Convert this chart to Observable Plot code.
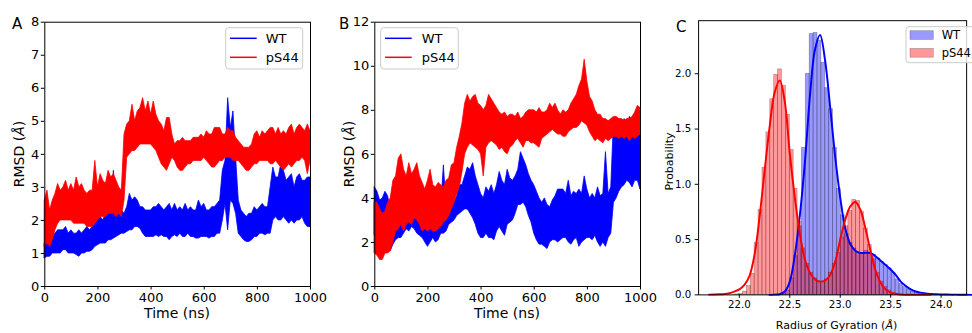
<!DOCTYPE html>
<html>
<head>
<meta charset="utf-8">
<script src="https://cdn.jsdelivr.net/npm/d3@7"></script>
<script src="https://cdn.jsdelivr.net/npm/@observablehq/plot@0.6"></script>
<style>
  html, body { margin: 0; padding: 0; background: #fff; }
  #root { position: relative; width: 972px; height: 333px; overflow: hidden; background: #fff; font-family: "DejaVu Sans", sans-serif; }
  .panel { position: absolute; top: 0; }
  .panel svg { display: block; overflow: visible; }
  #overlay { position: absolute; left: 0; top: 0; pointer-events: none; }
</style>
</head>
<body>
<div id="root">
  <div class="panel" id="pa" style="left:0px"></div>
  <div class="panel" id="pb" style="left:330px"></div>
  <div class="panel" id="pc" style="left:650px"></div>
</div>
<script>
// ---------------- Data ----------------
// time grid (ns), one envelope sample every 10 ns
const timeNs = d3.range(0, 1001, 10);

// Panel A: RMSD envelopes (low / high of the noisy trace), Å
const aWtLo = [0.85,0.9,0.9,1.0,1.0,1.0,1.0,1.1,1.1,1.0, 1.0,1.0,0.95,0.9,1.0,1.0,1.05,1.05,1.1,1.2, 1.25,1.3,1.3,1.3,1.4,1.4,1.45,1.5,1.55,1.6, 1.6,1.65,1.7,1.7,1.8,1.8,1.75,1.6,1.5,1.5, 1.5,1.5,1.55,1.5,1.55,1.5,1.5,1.4,1.5,1.55, 1.5,1.6,1.5,1.5,1.6,1.5,1.5,1.45,1.45,1.5, 1.5,1.5,1.45,1.5,1.5,1.6,1.6,2.0,2.5,1.7, 2.6,2.5,2.2,1.6,1.5,1.4,1.35,1.35,1.4,1.5, 1.5,1.6,1.6,1.55,1.6,1.6,2.0,2.1,2.0,2.0, 2.1,2.0,1.9,2.0,1.9,2.0,2.0,2.1,1.9,1.8, 1.8];
const aWtHi = [1.3,1.4,1.3,1.5,1.6,1.7,1.7,1.7,1.8,1.6, 1.7,1.6,1.6,1.7,1.6,1.7,1.8,1.7,1.8,1.9, 2.1,2.1,2.0,2.2,2.2,2.3,3.5,2.2,2.3,2.3, 2.2,2.4,2.8,2.6,2.7,2.6,2.4,2.4,2.3,2.3, 2.3,2.4,2.4,2.5,2.4,2.3,2.4,2.5,2.3,2.5, 2.3,2.4,2.3,2.5,2.3,2.4,2.3,2.3,2.6,2.4, 2.5,2.3,2.3,2.4,2.4,2.5,2.6,3.5,3.8,5.7, 4.8,5.3,3.9,2.6,2.3,2.2,2.1,2.2,2.2,2.4, 2.3,2.4,2.5,2.4,2.4,3.0,3.6,3.3,3.3,3.7, 3.5,3.2,3.3,3.4,3.0,3.3,3.4,3.2,3.2,3.3, 3.3];
const aPsLo = [1.2,1.3,1.2,1.4,1.7,1.9,2.0,2.0,2.0,2.0, 2.0,1.9,1.9,1.9,1.9,1.9,1.8,1.8,1.8,1.9, 2.0,2.1,2.1,2.1,2.2,2.2,2.2,2.1,2.2,2.1, 2.6,3.9,4.0,4.1,4.1,4.2,4.3,4.3,4.3,4.3, 4.3,4.2,4.1,3.9,3.7,3.6,3.5,3.7,3.9,3.8, 3.6,3.5,3.5,3.6,3.7,3.7,3.8,3.8,3.8,3.8, 3.9,3.8,3.7,3.6,3.6,3.7,3.8,3.8,3.9,3.9, 3.9,3.8,3.8,3.8,3.7,3.6,3.5,3.5,3.6,3.7, 3.7,3.8,3.8,3.8,3.8,3.7,3.7,3.8,3.7,3.6, 3.5,3.6,3.7,3.6,3.7,3.8,3.8,3.9,3.8,3.4, 3.8];
const aPsHi = [2.6,2.9,2.3,2.6,2.8,3.1,2.9,3.0,3.2,2.9, 3.1,2.9,3.3,3.0,3.1,2.9,2.8,2.9,2.9,3.8, 3.0,3.4,3.2,3.1,3.5,3.3,3.4,3.2,3.0,2.9, 4.6,4.9,5.0,5.5,5.0,5.3,5.4,5.7,5.3,5.6, 5.2,5.6,5.2,5.0,4.9,4.7,5.1,5.1,4.6,4.3, 4.4,4.4,4.5,4.4,4.4,4.4,4.5,4.5,4.5,4.6, 4.5,4.7,4.6,4.6,4.8,4.8,4.8,4.6,4.6,4.8, 4.7,4.7,4.5,4.4,4.3,4.2,4.2,4.2,4.3,4.6, 4.7,4.5,4.7,4.6,4.7,4.8,4.8,4.6,4.8,4.6, 4.7,4.6,4.8,4.9,4.6,4.8,4.9,4.8,4.7,4.9, 4.7];

// Panel B
const bWtLo = [2.3,2.2,2.0,2.3,2.5,1.7,1.6,1.9,2.1,2.2, 2.2,2.4,2.6,2.5,2.7,2.6,2.4,2.3,2.2,2.0, 1.8,2.0,2.2,2.0,2.1,2.4,2.4,2.5,2.8,2.9, 3.0,3.2,3.3,3.4,3.5,3.5,3.3,3.1,2.8,2.4, 2.2,2.2,2.4,2.2,2.2,2.1,2.5,2.7,2.5,2.3, 2.8,2.9,3.0,3.3,3.7,3.7,3.8,3.6,3.2,2.9, 2.4,2.1,1.9,1.9,1.8,1.7,2.0,2.1,2.1,2.0, 2.1,2.2,2.2,2.0,1.9,2.1,2.2,1.8,2.0,2.1, 2.2,2.2,2.1,2.3,2.0,1.8,2.0,1.8,2.2,2.4, 3.8,4.0,4.3,4.5,4.6,4.8,4.7,4.5,4.8,4.8, 4.4];
const bWtHi = [4.5,4.3,3.9,4.0,4.3,4.1,3.5,3.4,3.6,3.9, 3.6,3.5,3.6,3.3,3.6,3.8,3.6,3.5,3.4,3.2, 3.0,3.2,3.4,3.0,3.1,3.6,5.5,3.6,3.6,3.8, 3.8,4.1,4.6,4.6,5.0,5.4,5.3,5.6,5.0,4.6, 4.2,4.0,4.5,4.3,4.6,4.2,4.6,5.2,4.8,4.6, 5.3,4.9,4.8,5.0,5.3,6.1,5.8,5.5,5.1,4.8, 4.6,4.3,4.0,3.8,4.0,3.7,3.6,3.9,4.1,4.4, 4.4,4.4,4.2,4.8,4.1,4.3,4.2,4.4,4.2,5.0, 4.4,4.0,4.2,4.0,4.5,4.1,4.2,6.1,4.2,4.5, 7.5,7.6,7.5,7.2,7.6,7.3,7.7,7.4,7.3,7.0, 7.0];
const bPsLo = [1.5,1.4,1.2,1.2,1.5,1.5,1.6,2.0,2.5,2.6, 2.8,2.5,2.8,2.9,2.8,3.1,3.0,2.8,2.5,2.6, 2.5,2.6,2.5,2.5,2.6,2.7,2.9,3.0,3.2,3.5, 3.8,4.2,4.5,5.2,6.0,6.3,6.5,6.4,6.3,6.2, 6.0,5.0,6.3,6.5,6.6,6.5,6.4,6.2,6.3,6.1, 6.0,6.3,6.4,6.6,6.7,6.5,6.3,6.6,6.6,6.5, 6.5,6.4,6.3,6.7,6.8,6.9,7.0,7.1,7.0,6.9, 6.9,6.8,6.8,7.0,7.1,7.2,7.2,7.3,7.5,7.4, 7.3,7.0,6.8,6.6,6.7,6.6,6.5,6.7,6.6,6.7, 6.8,6.8,6.7,6.8,6.7,6.8,6.6,6.8,6.7,6.8, 6.9];
const bPsHi = [3.8,3.8,3.5,3.3,3.4,3.8,4.0,4.8,5.0,5.8, 6.0,5.3,5.0,5.6,5.1,5.3,5.6,5.0,4.7,4.4, 4.8,5.3,4.6,4.5,4.7,4.6,4.5,4.8,4.9,5.5, 5.6,6.3,6.8,7.4,8.3,8.7,8.4,8.6,8.7,8.3, 8.2,8.0,8.2,8.7,8.5,8.3,8.1,7.9,7.8,7.9, 7.7,7.8,7.8,7.7,7.9,7.6,7.7,7.9,8.0,8.0, 8.0,7.9,8.1,7.9,7.9,8.0,8.3,8.1,8.3,8.0, 7.8,8.0,7.9,8.0,8.3,8.5,8.7,9.1,9.4,10.3, 9.3,8.6,8.4,8.0,7.8,7.8,7.6,7.6,7.5,7.6, 7.7,7.7,7.6,7.6,7.5,7.6,7.6,7.7,7.9,8.2, 8.1];

const timeTicks = [0, 200, 400, 600, 800, 1000];
const aYTicks = [0, 1, 2, 3, 4, 5, 6, 7, 8];
const bYTicks = [0, 2, 4, 6, 8, 10, 12];

// Panel C: histograms (probability density per bin)
const binWidth = 0.0387;
const wtBinStart = 22.426;
const wtHist = [0.01,0.04,0.15,0.35,0.62,1.33,2.0,2.36,2.37,2.30, 2.1,1.87,1.68,1.33,0.96,0.72,0.55,0.47,0.42,0.38, 0.37,0.40,0.38,0.36,0.33,0.30,0.27,0.24,0.20,0.14, 0.10,0.07,0.05,0.03,0.02,0.015,0.01,0.005,0.004,0.003, 0.002];
const psBinStart = 21.958;
const psHist = [0.005,0.01,0.03,0.08,0.19,0.47,0.77,1.15,1.47,1.77, 1.99,2.04,1.89,1.63,1.31,0.96,0.66,0.42,0.28,0.2, 0.15,0.12,0.12,0.14,0.2,0.28,0.38,0.52,0.62,0.76, 0.86,0.85,0.75,0.6,0.45,0.32,0.2,0.12,0.07,0.04, 0.02,0.01];

// KDE curves
const psKdeX = [21.70,21.75,21.80,21.85,21.90,21.95,22.00,22.05,22.10,22.15,22.20,22.25,22.30,22.35,22.40,22.45,22.50,22.55,22.60,22.65,22.70,22.75,22.80,22.85,22.90,22.95,23.00,23.05,23.10,23.15,23.20,23.25,23.30,23.35,23.40,23.45,23.50,23.55,23.60,23.70,23.80,23.90];
const psKdeY = [0.002,0.003,0.005,0.008,0.015,0.03,0.05,0.09,0.17,0.36,0.70,1.12,1.52,1.83,1.94,1.75,1.28,0.88,0.55,0.32,0.20,0.14,0.12,0.13,0.18,0.30,0.50,0.68,0.80,0.84,0.77,0.60,0.40,0.22,0.11,0.05,0.02,0.01,0.004,0.001,0.0005,0.0];
const wtKdeX = [22.30,22.35,22.40,22.45,22.50,22.55,22.60,22.65,22.70,22.75,22.80,22.85,22.90,22.95,23.00,23.05,23.10,23.15,23.20,23.25,23.30,23.35,23.40,23.45,23.50,23.55,23.60,23.65,23.70,23.75,23.80,23.85,23.90,23.95,24.00,24.05,24.10,24.15,24.20,24.25,24.30];
const wtKdeY = [0.0,0.002,0.006,0.03,0.12,0.36,0.72,1.2,1.8,2.22,2.35,2.12,1.7,1.25,0.88,0.6,0.46,0.4,0.38,0.38,0.38,0.35,0.31,0.27,0.23,0.18,0.12,0.08,0.05,0.03,0.02,0.012,0.008,0.005,0.004,0.003,0.002,0.002,0.001,0.001,0.0];

const rgXTicks = [22.0, 22.5, 23.0, 23.5, 24.0];
const rgYTicks = [0.0, 0.5, 1.0, 1.5, 2.0];

const seriesNames = ["WT", "pS44"];
const seriesColors = ["#0000ff", "#ff0000"];

// ---------------- Build ----------------
const font = "DejaVu Sans";

function rmsdPanel(wLo, wHi, pLo, pHi, yMax, yTicks) {
  const rows = timeNs.map((t, i) => ({t, wLo: wLo[i], wHi: wHi[i], pLo: pLo[i], pHi: pHi[i]}));
  return Plot.plot({
    width: 330, height: 333,
    marginLeft: 44.3, marginRight: 20, marginTop: 21.7, marginBottom: 47,
    x: {domain: [0, 1000]},
    y: {domain: [0, yMax]},
    style: {fontFamily: font, fontSize: "13px", color: "#000", background: "transparent", overflow: "visible"},
    marks: [
      Plot.areaY(rows, {x: "t", y1: "wLo", y2: "wHi", fill: seriesColors[0], stroke: seriesColors[0], strokeWidth: 0.8}),
      Plot.areaY(rows, {x: "t", y1: "pLo", y2: "pHi", fill: seriesColors[1], stroke: seriesColors[1], strokeWidth: 0.8}),
      Plot.frame({stroke: "#000", strokeWidth: 1}),
      Plot.axisX({ticks: timeTicks, tickFormat: "d", tickSize: 3.5, tickPadding: 2.5, label: null, fontSize: 13}),
      Plot.axisY({ticks: yTicks, tickFormat: "d", tickSize: 3.5, tickPadding: 2, label: null, fontSize: 13})
    ]
  });
}

document.getElementById("pa").append(rmsdPanel(aWtLo, aWtHi, aPsLo, aPsHi, 8, aYTicks));
document.getElementById("pb").append(rmsdPanel(bWtLo, bWtHi, bPsLo, bPsHi, 12, bYTicks));

const wtBins = wtHist.map((h, i) => ({x1: wtBinStart + i * binWidth, x2: wtBinStart + (i + 1) * binWidth, h}));
const psBins = psHist.map((h, i) => ({x1: psBinStart + i * binWidth, x2: psBinStart + (i + 1) * binWidth, h}));
const wtKde = wtKdeX.map((x, i) => ({x, y: wtKdeY[i]}));
const psKde = psKdeX.map((x, i) => ({x, y: psKdeY[i]}));

const plotC = Plot.plot({
  width: 330, height: 333,
  marginLeft: 49.3, marginRight: 6, marginTop: 20.7, marginBottom: 31.3,
  x: {domain: [21.596, 24.253]},
  y: {domain: [0, 2.48]},
  style: {fontFamily: font, fontSize: "10.5px", color: "#000", background: "transparent", overflow: "visible"},
  marks: [
    Plot.rectY(wtBins, {x1: "x1", x2: "x2", y: "h", fill: seriesColors[0], fillOpacity: 0.4, stroke: "#000", strokeOpacity: 0.3, strokeWidth: 0.7, insetLeft: 0, insetRight: 0}),
    Plot.rectY(psBins, {x1: "x1", x2: "x2", y: "h", fill: seriesColors[1], fillOpacity: 0.4, stroke: "#000", strokeOpacity: 0.3, strokeWidth: 0.7, insetLeft: 0, insetRight: 0}),
    Plot.line(wtKde, {x: "x", y: "y", stroke: seriesColors[0], strokeWidth: 2, curve: "catmull-rom"}),
    Plot.line(psKde, {x: "x", y: "y", stroke: seriesColors[1], strokeWidth: 2, curve: "catmull-rom"}),
    Plot.frame({stroke: "#000", strokeWidth: 1}),
    Plot.axisX({ticks: rgXTicks, tickFormat: d3.format(".1f"), tickSize: 3.5, tickPadding: 2.5, label: null, fontSize: 10.5}),
    Plot.axisY({ticks: rgYTicks, tickFormat: d3.format(".1f"), tickSize: 3.5, tickPadding: 4, label: null, fontSize: 10.5})
  ]
});
document.getElementById("pc").append(plotC);

// ---------------- Overlay: titles, panel letters, legends ----------------
const svg = d3.select("#root").append("svg")
  .attr("id", "overlay").attr("width", 972).attr("height", 333)
  .attr("font-family", font);

function label(x, y, txt, size, rotate, italicTail) {
  const t = svg.append("text")
    .attr("text-anchor", "middle").attr("font-size", size).attr("fill", "#000")
    .attr("transform", `translate(${x},${y})` + (rotate ? " rotate(-90)" : ""));
  if (italicTail) {
    t.append("tspan").text(txt + " (");
    t.append("tspan").attr("font-style", "italic").text("Å");
    t.append("tspan").text(")");
  } else {
    t.text(txt);
  }
}
// panel letters
svg.append("text").attr("x", 12).attr("y", 28.5).attr("font-size", 15).text("A");
svg.append("text").attr("x", 339).attr("y", 28.5).attr("font-size", 15).text("B");
svg.append("text").attr("x", 676).attr("y", 31.5).attr("font-size", 15).text("C");
// axis titles
label(177, 317.5, "Time (ns)", 14, false, false);
label(507, 317.5, "Time (ns)", 14, false, false);
label(24, 154, "RMSD", 14, true, true);
label(354, 154, "RMSD", 14, true, true);
label(836.5, 329, "Radius of Gyration", 11, false, true);
label(673, 161.5, "Probability", 11, true, false);

function lineLegend(x0, y0, w, h, lineX1, lineX2, textX, rowY) {
  svg.append("rect").attr("x", x0).attr("y", y0).attr("width", w).attr("height", h)
    .attr("rx", 3).attr("fill", "#fff").attr("fill-opacity", 0.8).attr("stroke", "#cccccc").attr("stroke-width", 1);
  seriesNames.forEach((name, i) => {
    svg.append("line").attr("x1", lineX1).attr("x2", lineX2).attr("y1", rowY[i]).attr("y2", rowY[i])
      .attr("stroke", seriesColors[i]).attr("stroke-width", 1.5);
    svg.append("text").attr("x", textX).attr("y", rowY[i] + 4.7).attr("font-size", 13).text(name);
  });
}
lineLegend(225.7, 27.7, 77, 41.3, 230, 256.7, 265.7, [38.3, 57.3]);
lineLegend(380.7, 27.7, 77.6, 41.3, 385, 411.7, 421.7, [38.3, 57.3]);

// histogram legend
svg.append("rect").attr("x", 906).attr("y", 26.7).attr("width", 80).attr("height", 36)
  .attr("rx", 3).attr("fill", "#fff").attr("fill-opacity", 0.8).attr("stroke", "#cccccc").attr("stroke-width", 1);
[30.7, 48.5].forEach((py, i) => {
  svg.append("rect").attr("x", 910).attr("y", py).attr("width", 23.3).attr("height", 8.7)
    .attr("fill", seriesColors[i]).attr("fill-opacity", 0.4).attr("stroke", "#000").attr("stroke-opacity", 0.3).attr("stroke-width", 0.7);
  svg.append("text").attr("x", 941.7).attr("y", py + 8.5).attr("font-size", 11.5).text(seriesNames[i]);
});
</script>
</body>
</html>
